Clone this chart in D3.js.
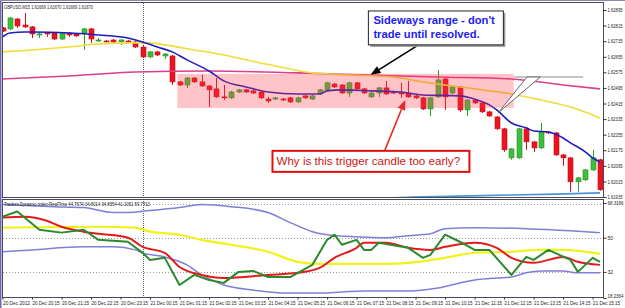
<!DOCTYPE html>
<html>
<head>
<meta charset="utf-8">
<script src="https://cdn.jsdelivr.net/npm/d3@7"></script>
<style>
  html, body { margin: 0; padding: 0; background: #fff; }
  svg { display: block; font-family: "Liberation Sans", Arial, sans-serif; }
</style>
</head>
<body>
<svg id="chart" width="625" height="308"></svg>
<script>
// GBPUSD M15 candles, one per bar (bar 0 = 20 Dec 19:15)
const opens = [
  1.62803, 1.62798, 1.62849, 1.62818, 1.62808, 1.62767, 1.62777, 1.62777, 1.62746, 1.62777,
  1.62772, 1.62777, 1.62798, 1.62739, 1.62736, 1.62741, 1.62731, 1.62736, 1.62731, 1.62705,
  1.62654, 1.62680, 1.62659, 1.62659, 1.62526, 1.62510, 1.62546, 1.62526, 1.62505, 1.62490,
  1.62449, 1.62444, 1.62474, 1.62485, 1.62480, 1.62474, 1.62438, 1.62438, 1.62438, 1.62444,
  1.62423, 1.62454, 1.62438, 1.62464, 1.62485, 1.62515, 1.62510, 1.62469, 1.62521, 1.62490,
  1.62449, 1.62469, 1.62495, 1.62474, 1.62469, 1.62469, 1.62454, 1.62444, 1.62387, 1.62449,
  1.62541, 1.62469, 1.62500, 1.62382, 1.62433, 1.62418, 1.62372, 1.62346, 1.62285, 1.62136,
  1.62136, 1.62285, 1.62218, 1.62187, 1.62269, 1.62264, 1.62151, 1.62136, 1.62013, 1.62023,
  1.62074, 1.62126
]
const highs = [
  1.62808, 1.62859, 1.62854, 1.62880, 1.62813, 1.62777, 1.62782, 1.62782, 1.62782, 1.62782,
  1.62777, 1.62803, 1.62803, 1.62751, 1.62741, 1.62746, 1.62746, 1.62741, 1.62736, 1.62710,
  1.62685, 1.62685, 1.62674, 1.62664, 1.62531, 1.62551, 1.62551, 1.62562, 1.62510, 1.62546,
  1.62510, 1.62480, 1.62490, 1.62490, 1.62485, 1.62480, 1.62449, 1.62449, 1.62444, 1.62449,
  1.62449, 1.62459, 1.62459, 1.62490, 1.62526, 1.62521, 1.62515, 1.62526, 1.62526, 1.62495,
  1.62474, 1.62500, 1.62531, 1.62480, 1.62521, 1.62531, 1.62459, 1.62449, 1.62449, 1.62587,
  1.62546, 1.62505, 1.62505, 1.62438, 1.62438, 1.62423, 1.62377, 1.62351, 1.62290, 1.62187,
  1.62290, 1.62290, 1.62223, 1.62315, 1.62274, 1.62269, 1.62156, 1.62141, 1.62038, 1.62079,
  1.62177, 1.62131
]
const lows = [
  1.62782, 1.62792, 1.62803, 1.62803, 1.62751, 1.62751, 1.62757, 1.62741, 1.62741, 1.62757,
  1.62757, 1.62690, 1.62726, 1.62731, 1.62731, 1.62726, 1.62715, 1.62731, 1.62700, 1.62649,
  1.62649, 1.62659, 1.62644, 1.62510, 1.62505, 1.62495, 1.62521, 1.62500, 1.62397, 1.62444,
  1.62433, 1.62438, 1.62469, 1.62469, 1.62464, 1.62438, 1.62418, 1.62433, 1.62428, 1.62418,
  1.62418, 1.62438, 1.62433, 1.62459, 1.62480, 1.62495, 1.62464, 1.62449, 1.62485, 1.62464,
  1.62444, 1.62449, 1.62459, 1.62464, 1.62444, 1.62444, 1.62438, 1.62382, 1.62351, 1.62444,
  1.62382, 1.62464, 1.62372, 1.62351, 1.62413, 1.62367, 1.62346, 1.62279, 1.62167, 1.62126,
  1.62131, 1.62177, 1.62167, 1.62182, 1.62259, 1.62146, 1.62095, 1.61962, 1.61962, 1.62018,
  1.62069, 1.61967
]
const closes = [
  1.62787, 1.62854, 1.62813, 1.62808, 1.62772, 1.62772, 1.62774, 1.62746, 1.62777, 1.62767,
  1.62762, 1.62798, 1.62746, 1.62741, 1.62733, 1.62731, 1.62741, 1.62733, 1.62705, 1.62654,
  1.62680, 1.62664, 1.62669, 1.62526, 1.62510, 1.62546, 1.62526, 1.62505, 1.62485, 1.62449,
  1.62444, 1.62474, 1.62485, 1.62474, 1.62469, 1.62444, 1.62428, 1.62444, 1.62436, 1.62423,
  1.62444, 1.62444, 1.62454, 1.62485, 1.62521, 1.62500, 1.62469, 1.62521, 1.62490, 1.62469,
  1.62469, 1.62495, 1.62464, 1.62469, 1.62467, 1.62449, 1.62444, 1.62387, 1.62444, 1.62536,
  1.62449, 1.62500, 1.62382, 1.62433, 1.62418, 1.62372, 1.62351, 1.62285, 1.62177, 1.62182,
  1.62285, 1.62218, 1.62187, 1.62269, 1.62264, 1.62151, 1.62136, 1.62013, 1.62033, 1.62074,
  1.62136, 1.61972
]

// moving averages on the price chart, [bar, price]
const maFast = [
  [0, 1.62757], [1, 1.62777], [3, 1.62782], [4, 1.62782], [9, 1.62777], [13, 1.62767],
  [17, 1.62751], [19, 1.62731], [21, 1.62705], [23, 1.62680], [25, 1.62639], [28, 1.62582],
  [30, 1.62531], [33, 1.62500], [36, 1.62474], [40, 1.62464], [43, 1.62464], [44, 1.62480],
  [46, 1.62485], [50, 1.62480], [54, 1.62474], [57, 1.62459], [62, 1.62454], [64, 1.62438],
  [66, 1.62408], [67, 1.62382], [69, 1.62315], [71, 1.62290], [72, 1.62274], [74, 1.62269],
  [76, 1.62238], [77, 1.62213], [79, 1.62167], [80, 1.62136], [81, 1.62115]
]
const maSlow = [
  [0, 1.62680], [4, 1.62690], [9, 1.62705], [13, 1.62721], [18, 1.62726], [20, 1.62726],
  [22, 1.62716], [26, 1.62690], [30, 1.62664], [35, 1.62623], [39, 1.62592], [42, 1.62572],
  [47, 1.62562], [53, 1.62551], [57, 1.62526], [62, 1.62500], [66, 1.62480], [69, 1.62464],
  [73, 1.62433], [77, 1.62397], [81, 1.62341]
]
const maLong = [
  [0, 1.62541], [9, 1.62556], [18, 1.62577], [28, 1.62582], [40, 1.62572], [49, 1.62562],
  [59, 1.62551], [69, 1.62541], [76, 1.62510], [81, 1.62490]
]
const maBase = [[52, 1.61930], [55, 1.61934], [65, 1.61942], [75, 1.61950], [81, 1.61956]]

// Traders Dynamic Index, [bar, value]
const tdiUpper = [
  [0, 67.5], [7, 66.4], [11, 65.9], [15, 63.3], [17, 63.3], [20, 64.3], [24, 65.9], [27, 67.5],
  [31, 66.4], [36, 63.3], [39, 58.0], [42, 53.2], [44, 51.6], [48, 50.5], [52, 50.0], [55, 51.1],
  [58, 52.1], [60, 54.8], [64, 55.3], [71, 54.8], [77, 53.7], [81, 52.7]
]
const tdiLower = [
  [0, 42.6], [4, 43.6], [11, 45.2], [15, 45.2], [18, 43.6], [19, 42.0], [22, 39.9], [25, 35.7],
  [27, 30.4], [30, 25.1], [34, 22.4], [38, 20.9], [43, 20.9], [46, 21.4], [49, 21.9], [55, 21.9],
  [59, 23.5], [62, 26.2], [64, 27.7], [67, 28.8], [69, 29.3], [71, 31.5], [73, 32.5], [76, 32.5],
  [78, 31.5], [81, 31.5]
]
const tdiBase = [
  [0, 55.3], [13, 55.8], [18, 55.3], [20, 53.2], [24, 51.6], [27, 48.9], [31, 46.3], [36, 42.6],
  [40, 37.3], [43, 36.2], [47, 36.2], [52, 36.2], [55, 36.8], [60, 39.4], [64, 42.1], [69, 42.6],
  [73, 43.6], [76, 43.6], [81, 41.5]
]
const tdiSignal = [
  [0, 60.6], [3, 61.1], [6, 59.0], [8, 55.8], [11, 53.2], [13, 52.1], [17, 50.0], [19, 45.2],
  [22, 42.0], [24, 34.6], [27, 30.4], [30, 28.8], [36, 30.4], [40, 31.5], [43, 34.1], [45, 39.4],
  [48, 44.7], [49, 47.4], [52, 47.4], [55, 44.7], [58, 43.6], [60, 45.2], [64, 47.4], [67, 44.7],
  [69, 39.4], [72, 36.8], [76, 39.9], [78, 37.3], [81, 35.7]
]
const tdiRsi = [
  [0, 61.1], [2, 63.8], [5, 54.2], [8, 52.7], [11, 54.2], [12, 51.6], [13, 48.9], [17, 47.9],
  [19, 42.0], [20, 38.3], [22, 39.4], [24, 25.1], [26, 30.4], [28, 27.7], [30, 26.2], [32, 32.0],
  [34, 32.5], [36, 29.3], [39, 29.3], [42, 35.7], [44, 48.9], [45, 51.6], [46, 46.3], [48, 48.9],
  [49, 43.6], [50, 43.6], [51, 47.4], [55, 44.7], [57, 39.4], [58, 41.0], [60, 51.6], [62, 47.9],
  [64, 43.6], [66, 43.6], [69, 30.4], [71, 39.9], [72, 38.3], [74, 43.6], [77, 38.3], [78, 32.0],
  [80, 39.4], [81, 37.3]
]

const priceTicks = [1.62895, 1.62815, 1.62735, 1.62655, 1.62575, 1.62495, 1.62415,
  1.62335, 1.62255, 1.62175, 1.62095, 1.62015, 1.61935]
const tdiTicks = [68.3166, 50, 32, 18.2364]
const tdiTickLabels = ['68.3166', '50', '32', '18.2364']
const tdiLevels = [68, 50, 32]
const timeTickBars = d3.range(0, 81, 4)
const timeLabels = ['20 Dec 2012', '20 Dec 20:15', '20 Dec 21:15', '20 Dec 22:15', '20 Dec 23:15',
  '21 Dec 00:15', '21 Dec 01:15', '21 Dec 02:15', '21 Dec 03:15', '21 Dec 04:15', '21 Dec 05:15',
  '21 Dec 06:15', '21 Dec 07:15', '21 Dec 08:15', '21 Dec 09:15', '21 Dec 10:15', '21 Dec 11:15',
  '21 Dec 12:15', '21 Dec 13:15', '21 Dec 14:15', '21 Dec 15:15']
const daySeparatorBar = 19

const mainTitle = 'GBPUSD,M15  1.61669 1.61670 1.61669 1.61670'
const tdiTitle = 'Traders Dynamic Index RealTime 44.7674 34.8014 34.8554 41.1051 59.7713'

// annotations in bar / price units
const rangeZone = { from: 23.7, to: 69.3, top: 1.62567, bottom: 1.62392 }
const noteRange = {
  lines: ["Sideways range - don't", 'trade until resolved.'],
  from: 49.6, to: 67.9, top: 1.62890, bottom: 1.62716,
  arrowFrom: [56.4, 1.62716], arrowTo: [49.9, 1.62562]
}
const noteTrigger = {
  text: 'Why is this trigger candle too early?',
  from: 36.6, to: 63.3, top: 1.62172, bottom: 1.62064,
  arrowFrom: [51.8, 1.62172], arrowTo: [54.6, 1.62433]
}
const callout = { tip: [67.2, 1.62367], left: [71.1, 1.62551], right: [72.9, 1.62551], lineTo: 78.7 }

// ---------------------------------------------------------------------------

const svg = d3.select('#chart')
const x = d3.scaleLinear().domain([0, 81]).range([2.5, 600])
const y = d3.scaleLinear().domain([1.61935, 1.62895]).range([197, 10])
const yT = d3.scaleLinear().domain([18.2364, 68.3166]).range([298, 203])

const main = { left: 3, right: 603, top: 3, bottom: 197 }
const lower = { left: 3, right: 603, top: 200, bottom: 297 }

const defs = svg.append('defs')
defs.append('clipPath').attr('id', 'clip-main').append('rect')
  .attr('x', main.left).attr('y', main.top)
  .attr('width', main.right - main.left).attr('height', main.bottom - main.top)
defs.append('clipPath').attr('id', 'clip-lower').append('rect')
  .attr('x', lower.left).attr('y', lower.top)
  .attr('width', lower.right - lower.left).attr('height', lower.bottom - lower.top)

svg.append('rect').attr('width', 625).attr('height', 308).attr('fill', '#fff')

// day separator through both panels
svg.append('line')
  .attr('x1', Math.round(x(daySeparatorBar)) + 0.5).attr('x2', Math.round(x(daySeparatorBar)) + 0.5)
  .attr('y1', main.top).attr('y2', lower.bottom)
  .attr('stroke', '#555').attr('stroke-dasharray', '1,1')

// ---- price panel
const gMain = svg.append('g').attr('clip-path', 'url(#clip-main)')

const candles = d3.range(opens.length).map(i => ({
  i, o: opens[i], h: highs[i], l: lows[i], c: closes[i]
}))

const candle = gMain.selectAll('g.candle').data(candles).join('g').attr('class', 'candle')
candle.append('line')
  .attr('x1', d => Math.round(x(d.i)) + 0.5).attr('x2', d => Math.round(x(d.i)) + 0.5)
  .attr('y1', d => y(d.h)).attr('y2', d => y(d.l))
  .attr('stroke', d => d.c >= d.o ? '#2f9a2f' : '#d8101c')
candle.append('rect')
  .attr('x', d => Math.round(x(d.i)) - 2)
  .attr('width', 5)
  .attr('y', d => y(Math.max(d.o, d.c)))
  .attr('height', d => Math.max(1, Math.abs(y(d.o) - y(d.c))))
  .attr('fill', d => d.c >= d.o ? '#3cc03c' : '#e8141f')
  .attr('stroke', d => d.c >= d.o ? '#2a8a2a' : '#c8101a')
  .attr('stroke-width', 0.6)

const priceLine = d3.line().x(d => x(d[0])).y(d => y(d[1])).curve(d3.curveMonotoneX)
const maStyles = [
  [maLong, '#dd3d8f', 1.6],
  [maSlow, '#f0dc3a', 1.6],
  [maBase, '#4a94d6', 1.6],
  [maFast, '#1d1dbd', 1.6]
]
maStyles.forEach(([data, color, w]) => {
  gMain.append('path').datum(data).attr('d', priceLine)
    .attr('fill', 'none').attr('stroke', color).attr('stroke-width', w)
})

// sideways range zone
gMain.append('rect')
  .attr('x', x(rangeZone.from)).attr('width', x(rangeZone.to) - x(rangeZone.from))
  .attr('y', y(rangeZone.top)).attr('height', y(rangeZone.bottom) - y(rangeZone.top))
  .attr('fill', '#ff3a48').attr('fill-opacity', 0.3)

// gray line callout pointing at the breakout candle
gMain.append('line')
  .attr('x1', x(rangeZone.to)).attr('x2', x(callout.lineTo))
  .attr('y1', y(callout.left[1])).attr('y2', y(callout.left[1]))
  .attr('stroke', '#8a8a8a').attr('stroke-width', 1)
gMain.append('polygon')
  .attr('points', [callout.tip, callout.left, callout.right].map(p => [x(p[0]), y(p[1])].join(',')).join(' '))
  .attr('fill', '#fff').attr('stroke', '#666').attr('stroke-width', 1)

function arrow (g, from, to, color, width) {
  const x1 = x(from[0]); const y1 = y(from[1]); const x2 = x(to[0]); const y2 = y(to[1])
  const a = Math.atan2(y2 - y1, x2 - x1)
  const len = 10; const hw = 4
  const bx = x2 - len * Math.cos(a); const by = y2 - len * Math.sin(a)
  g.append('line').attr('x1', x1).attr('y1', y1).attr('x2', bx).attr('y2', by)
    .attr('stroke', color).attr('stroke-width', width)
  g.append('polygon')
    .attr('points', [[x2, y2], [bx + hw * Math.sin(a), by - hw * Math.cos(a)], [bx - hw * Math.sin(a), by + hw * Math.cos(a)]].map(p => p.join(',')).join(' '))
    .attr('fill', color)
}

const gNotes = svg.append('g')

// note 1: sideways range
arrow(gNotes, noteRange.arrowFrom, noteRange.arrowTo, '#000', 1.6)
const n1x = x(noteRange.from); const n1y = y(noteRange.top)
const n1w = x(noteRange.to) - n1x; const n1h = y(noteRange.bottom) - n1y
gNotes.append('rect').attr('x', n1x + 2).attr('y', n1y + 2).attr('width', n1w).attr('height', n1h).attr('fill', '#9a9a9a')
gNotes.append('rect').attr('x', n1x).attr('y', n1y).attr('width', n1w).attr('height', n1h)
  .attr('fill', '#fff').attr('stroke', '#222').attr('stroke-width', 1)
noteRange.lines.forEach((t, k) => {
  gNotes.append('text').attr('x', n1x + 5).attr('y', n1y + 13 + k * 14)
    .attr('fill', '#1c1cf0').attr('font-weight', 'bold').attr('font-size', '11.2px').text(t)
})

// note 2: trigger candle question
arrow(gNotes, noteTrigger.arrowFrom, noteTrigger.arrowTo, '#e62a2a', 1.6)
const n2x = x(noteTrigger.from); const n2y = y(noteTrigger.top)
gNotes.append('rect').attr('x', n2x).attr('y', n2y)
  .attr('width', x(noteTrigger.to) - n2x).attr('height', y(noteTrigger.bottom) - n2y)
  .attr('fill', '#fff').attr('stroke', '#e01010').attr('stroke-width', 2)
gNotes.append('text').attr('x', n2x + 4).attr('y', n2y + 14)
  .attr('fill', '#cc1414').attr('font-size', '11.6px').text(noteTrigger.text)

// ---- TDI panel
const gLow = svg.append('g').attr('clip-path', 'url(#clip-lower)')
gLow.selectAll('line.level').data(tdiLevels).join('line').attr('class', 'level')
  .attr('x1', lower.left).attr('x2', lower.right)
  .attr('y1', d => Math.round(yT(d)) + 0.5).attr('y2', d => Math.round(yT(d)) + 0.5)
  .attr('stroke', '#999').attr('stroke-dasharray', '1,2')

const tdiSmooth = d3.line().x(d => x(d[0])).y(d => yT(d[1])).curve(d3.curveMonotoneX)
const tdiSharp = d3.line().x(d => x(d[0])).y(d => yT(d[1]))
const tdiStyles = [
  [tdiUpper, '#7f7fd6', 1.5, tdiSmooth],
  [tdiLower, '#7f7fd6', 1.5, tdiSmooth],
  [tdiBase, '#f2f21a', 2.2, tdiSmooth],
  [tdiSignal, '#e21a1a', 2, tdiSmooth],
  [tdiRsi, '#2c8a2c', 2, tdiSharp]
]
tdiStyles.forEach(([data, color, w, gen]) => {
  gLow.append('path').datum(data).attr('d', gen)
    .attr('fill', 'none').attr('stroke', color).attr('stroke-width', w)
    .attr('stroke-linejoin', 'round')
})

// ---- frames
svg.append('rect').attr('x', 2.5).attr('y', 2.5).attr('width', 601).attr('height', 195)
  .attr('fill', 'none').attr('stroke', '#4a4a58')
svg.append('rect').attr('x', 2.5).attr('y', 199.5).attr('width', 601).attr('height', 98)
  .attr('fill', 'none').attr('stroke', '#4a4a58')
svg.append('line').attr('x1', 0.5).attr('x2', 0.5).attr('y1', 0).attr('y2', 308).attr('stroke', '#6b6bb5').attr('stroke-width', 2)
svg.append('line').attr('x1', 0).attr('x2', 625).attr('y1', 0.5).attr('y2', 0.5).attr('stroke', '#8a8ab0')

// ---- axes
const fitText = (sel, w) => sel.attr('textLength', w).attr('lengthAdjust', 'spacingAndGlyphs')

const priceAxis = svg.append('g').attr('transform', 'translate(603.5,0)')
  .call(d3.axisRight(y).tickValues(priceTicks).tickFormat(d3.format('.5f')).tickSize(3).tickPadding(1))
const tdiAxis = svg.append('g').attr('transform', 'translate(603.5,0)')
  .call(d3.axisRight(yT).tickValues(tdiTicks).tickFormat((d, i) => tdiTickLabels[i]).tickSize(3).tickPadding(1))
const timeAxis = svg.append('g').attr('transform', 'translate(0,297.5)')
  .call(d3.axisBottom(x).tickValues(timeTickBars).tickFormat((d, i) => timeLabels[i]).tickSize(2).tickPadding(1))

;[priceAxis, tdiAxis, timeAxis].forEach(g => {
  g.select('.domain').remove()
  g.selectAll('line').attr('stroke', '#333')
  g.selectAll('text').attr('fill', '#222').attr('font-size', '5px')
    .attr('font-family', '"Liberation Sans", Arial, sans-serif')
})
priceAxis.selectAll('text').call(fitText, 15)
tdiAxis.selectAll('text').each(function (d) {
  const t = d3.select(this)
  if (String(d).length > 3) fitText(t, 16)
  if (d === tdiTicks[3]) t.attr('dy', '-0.2em')
})
timeAxis.selectAll('text').attr('text-anchor', 'start').attr('dy', '0.9em').call(fitText, 27)

// panel titles
svg.append('text').attr('x', 4).attr('y', 9).attr('font-size', '5px').attr('fill', '#222')
  .text(mainTitle).call(fitText, 89)
svg.append('text').attr('x', 4).attr('y', 206).attr('font-size', '5px').attr('fill', '#222')
  .text(tdiTitle).call(fitText, 146)
</script>
</body>
</html>
